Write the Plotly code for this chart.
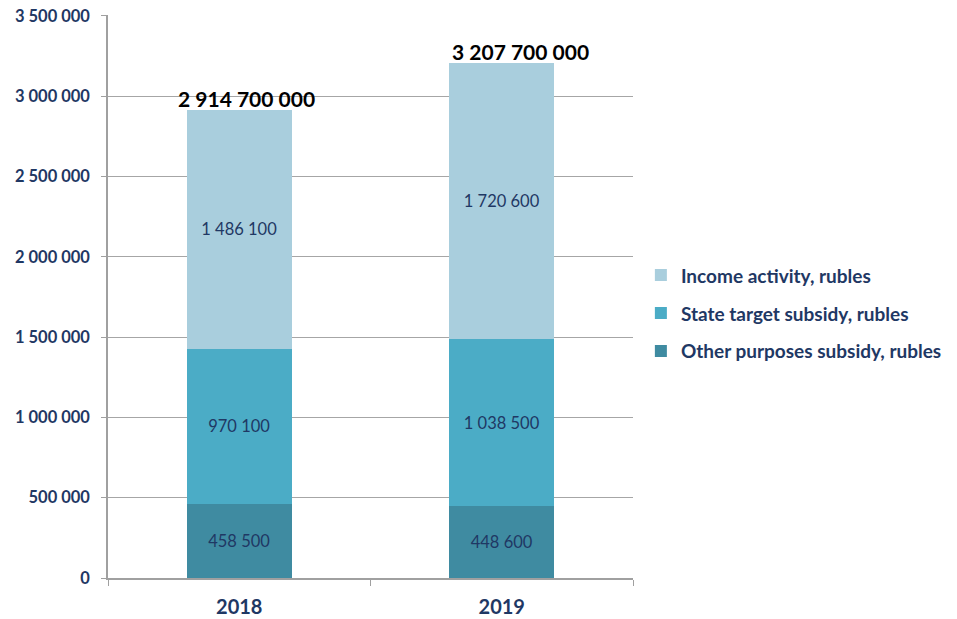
import plotly.graph_objects as go

years = ["2018", "2019"]
other_purposes = [458500, 448600]
state_target = [970100, 1038500]
income_activity = [1486100, 1720600]
total_labels = ["2 914 700 000", "3 207 700 000"]
y_tickvals = [0, 500000, 1000000, 1500000, 2000000, 2500000, 3000000, 3500000]
y_ticktext = ["0", "500 000", "1 000 000", "1 500 000", "2 000 000", "2 500 000", "3 000 000", "3 500 000"]

series = [
    ("Other purposes subsidy, rubles", other_purposes, "#3F8BA1", "legend3"),
    ("State target subsidy, rubles", state_target, "#4BACC6", "legend2"),
    ("Income activity, rubles", income_activity, "#A9CEDD", "legend"),
]

def fmt(v):
    return f"{v:,}".replace(",", " ")

navy = "#1F3864"
font_family = "Lato, 'Open Sans', sans-serif"

fig = go.Figure()
for name, vals, color, lg in series:
    fig.add_trace(go.Bar(
        x=years, y=vals, name=f"<b>{name}</b>",
        marker=dict(color=color, line=dict(width=0)),
        text=[fmt(v) for v in vals],
        textposition="inside", insidetextanchor="middle",
        textfont=dict(color=navy, size=16.5, family=font_family),
        legend=lg, width=0.4,
    ))

totals = [a + b + c for a, b, c in zip(other_purposes, state_target, income_activity)]
shifts = [7, 19]
for i, (tot, lab, xs) in enumerate(zip(totals, total_labels, shifts)):
    fig.add_annotation(x=i, y=tot, text=f"<b>{lab}</b>", showarrow=False,
                       yanchor="bottom", xanchor="center", xshift=xs, yshift=-3,
                       font=dict(size=21, color="black", family=font_family))

leg_common = dict(font=dict(size=19, color=navy, family=font_family),
                  bgcolor="rgba(0,0,0,0)", xanchor="left", yanchor="middle",
                  itemwidth=30)
ys = {"legend": 275, "legend2": 313, "legend3": 351}
top, bottom = 14.5, 578
for k, py in ys.items():
    yp = (bottom - py) / (bottom - top)
    fig.update_layout(**{k: dict(x=1.015, y=yp, **leg_common)})

fig.update_layout(
    width=957, height=619,
    margin=dict(l=108, r=324, t=14.5, b=41, autoexpand=False),
    barmode="stack",
    plot_bgcolor="white", paper_bgcolor="white",
    showlegend=True,
    xaxis=dict(type="category", range=[-0.5, 1.5], tickson="boundaries",
               ticks="outside", ticklen=6,
               tickcolor="#A0A0A0", showline=True, linecolor="#A0A0A0", linewidth=1.5,
               tickfont=dict(size=20, color=navy, family=font_family),
               tickprefix="<b>", ticksuffix="</b>", tickangle=0,
               ticklabelstandoff=10,
               showgrid=False, automargin=False),
    yaxis=dict(range=[0, 3506000], tickvals=y_tickvals,
               ticktext=[f"<b>{t}</b>" for t in y_ticktext],
               showgrid=True, gridcolor="#A6A6A6", gridwidth=1.2,
               ticks="outside", ticklen=5, tickcolor="#A0A0A0",
               showline=True, linecolor="#A0A0A0", linewidth=1.5,
               tickfont=dict(size=16.5, color=navy, family=font_family),
               zeroline=False, ticklabelstandoff=8, automargin=False,
               ticklabeloverflow="allow"),
)
for tr in fig.data:
    tr.cliponaxis = False

fig.write_html("out.html", config={"displayModeBar": False},
               post_script="document.body.style.margin='0';")
